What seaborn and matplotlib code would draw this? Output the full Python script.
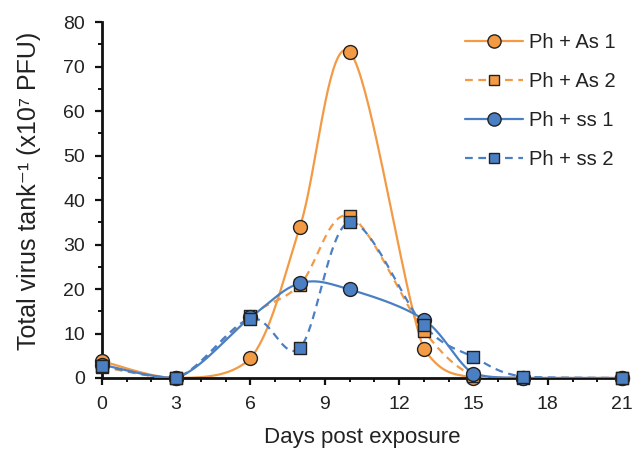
import numpy as np
import pandas as pd
import matplotlib
matplotlib.use("Agg")
import matplotlib.pyplot as plt
from matplotlib.lines import Line2D
import seaborn as sns

days = [0, 3, 6, 8, 10, 13, 15, 17, 21]
as1 = [3.8, 0.0, 4.4, 34.0, 73.3, 6.5, 0.0, 0.0, 0.0]
as2 = [2.5, 0.0, 14.0, 21.0, 36.4, 10.6, 0.5, 0.0, 0.0]
ss1 = [3.0, 0.0, 13.6, 21.3, 19.9, 13.1, 1.0, 0.0, 0.0]
ss2 = [2.8, 0.0, 13.3, 6.8, 35.0, 11.8, 4.7, 0.3, 0.0]
labels = ["Ph + As 1", "Ph + As 2", "Ph + ss 1", "Ph + ss 2"]
xticks = [0, 3, 6, 9, 12, 15, 18, 21]
yticks = [0, 10, 20, 30, 40, 50, 60, 70, 80]

ORANGE = "#F39A45"
BLUE = "#4A7FC4"

sns.set_style("ticks")
plt.rcParams["font.family"] = ["Liberation Sans", "DejaVu Sans"]


def smooth(xs, ys, n=40):
    """Excel-like smoothed line (Catmull-Rom via cubic Bezier), no dip below 0."""
    P = np.column_stack([xs, ys]).astype(float)
    out = []
    m = len(P)
    for i in range(m - 1):
        p0 = P[max(i - 1, 0)]
        p1 = P[i]
        p2 = P[i + 1]
        p3 = P[min(i + 2, m - 1)]
        b1 = p1 + (p2 - p0) / 6.0
        b2 = p2 - (p3 - p1) / 6.0
        b1[1] = max(b1[1], 0.0)
        b2[1] = max(b2[1], 0.0)
        t = np.linspace(0, 1, n, endpoint=(i == m - 2))[:, None]
        seg = ((1 - t) ** 3) * p1 + 3 * ((1 - t) ** 2) * t * b1 + 3 * (1 - t) * t ** 2 * b2 + t ** 3 * p2
        out.append(seg)
    S = np.vstack(out)
    return pd.DataFrame({"x": S[:, 0], "y": S[:, 1]})


fig, ax = plt.subplots(figsize=(6.44, 4.5), dpi=100)
fig.subplots_adjust(left=0.158, right=0.966, top=0.951, bottom=0.16)

series = [
    (as1, ORANGE, "o", 10, None),
    (as2, ORANGE, "s", 8, (3.5, 2.5)),
    (ss1, BLUE, "o", 10, None),
    (ss2, BLUE, "s", 8, (3.5, 2.5)),
]

handles = []
for k, (vals, col, mk, ms, dash) in enumerate(series):
    sm = smooth(days, vals)
    sns.lineplot(data=sm, x="x", y="y", sort=False, estimator=None,
                 color=col, lw=1.6, ax=ax, zorder=2 + k)
    line = ax.get_lines()[-1]
    if dash is not None:
        line.set_dashes(dash)
    pts = pd.DataFrame({"x": days, "y": vals})
    sns.scatterplot(data=pts, x="x", y="y", marker=mk, s=ms ** 2,
                    color=col, edgecolor="#222222", linewidth=1.0,
                    ax=ax, zorder=10 + k, clip_on=False)
    h = Line2D([0], [0], color=col, lw=1.6, marker=mk, markersize=ms - 0.5,
               markerfacecolor=col, markeredgecolor="#222222", markeredgewidth=1.0,
               linestyle="-" if dash is None else (0, dash))
    handles.append(h)

ax.set_xlim(0, 21)
ax.set_ylim(0, 80)
ax.set_xticks(xticks)
ax.set_yticks(yticks)
ax.set_xticks(np.arange(0, 22, 1), minor=True)
ax.set_yticks(np.arange(0, 81, 5), minor=True)
ax.tick_params(axis="both", which="major", direction="out", length=5, width=1.6,
               labelsize=14, color="#111111", labelcolor="#222222")
ax.tick_params(axis="y", which="major", pad=7)
ax.tick_params(axis="x", which="major", pad=8)
ax.tick_params(axis="both", which="minor", direction="out", length=3, width=1.4,
               color="#111111")
for s in ["top", "right"]:
    ax.spines[s].set_visible(False)
for s in ["left", "bottom"]:
    ax.spines[s].set_linewidth(2.0)
    ax.spines[s].set_color("#111111")

ax.set_xlabel("Days post exposure", fontsize=16, color="#222222", labelpad=10)
ax.set_ylabel("Total virus tank\u207b\u00b9 (x10\u2077 PFU)", fontsize=18,
              color="#222222", labelpad=16)
ax.yaxis.label.set_y(0.525)

leg = ax.legend(handles=handles, labels=labels, loc="upper right",
                bbox_to_anchor=(1.023, 1.02), frameon=False, fontsize=14.5,
                handlelength=2.9, labelspacing=1.0, handletextpad=0.3)
for t in leg.get_texts():
    t.set_color("#222222")

fig.savefig("out.png", dpi=100)
